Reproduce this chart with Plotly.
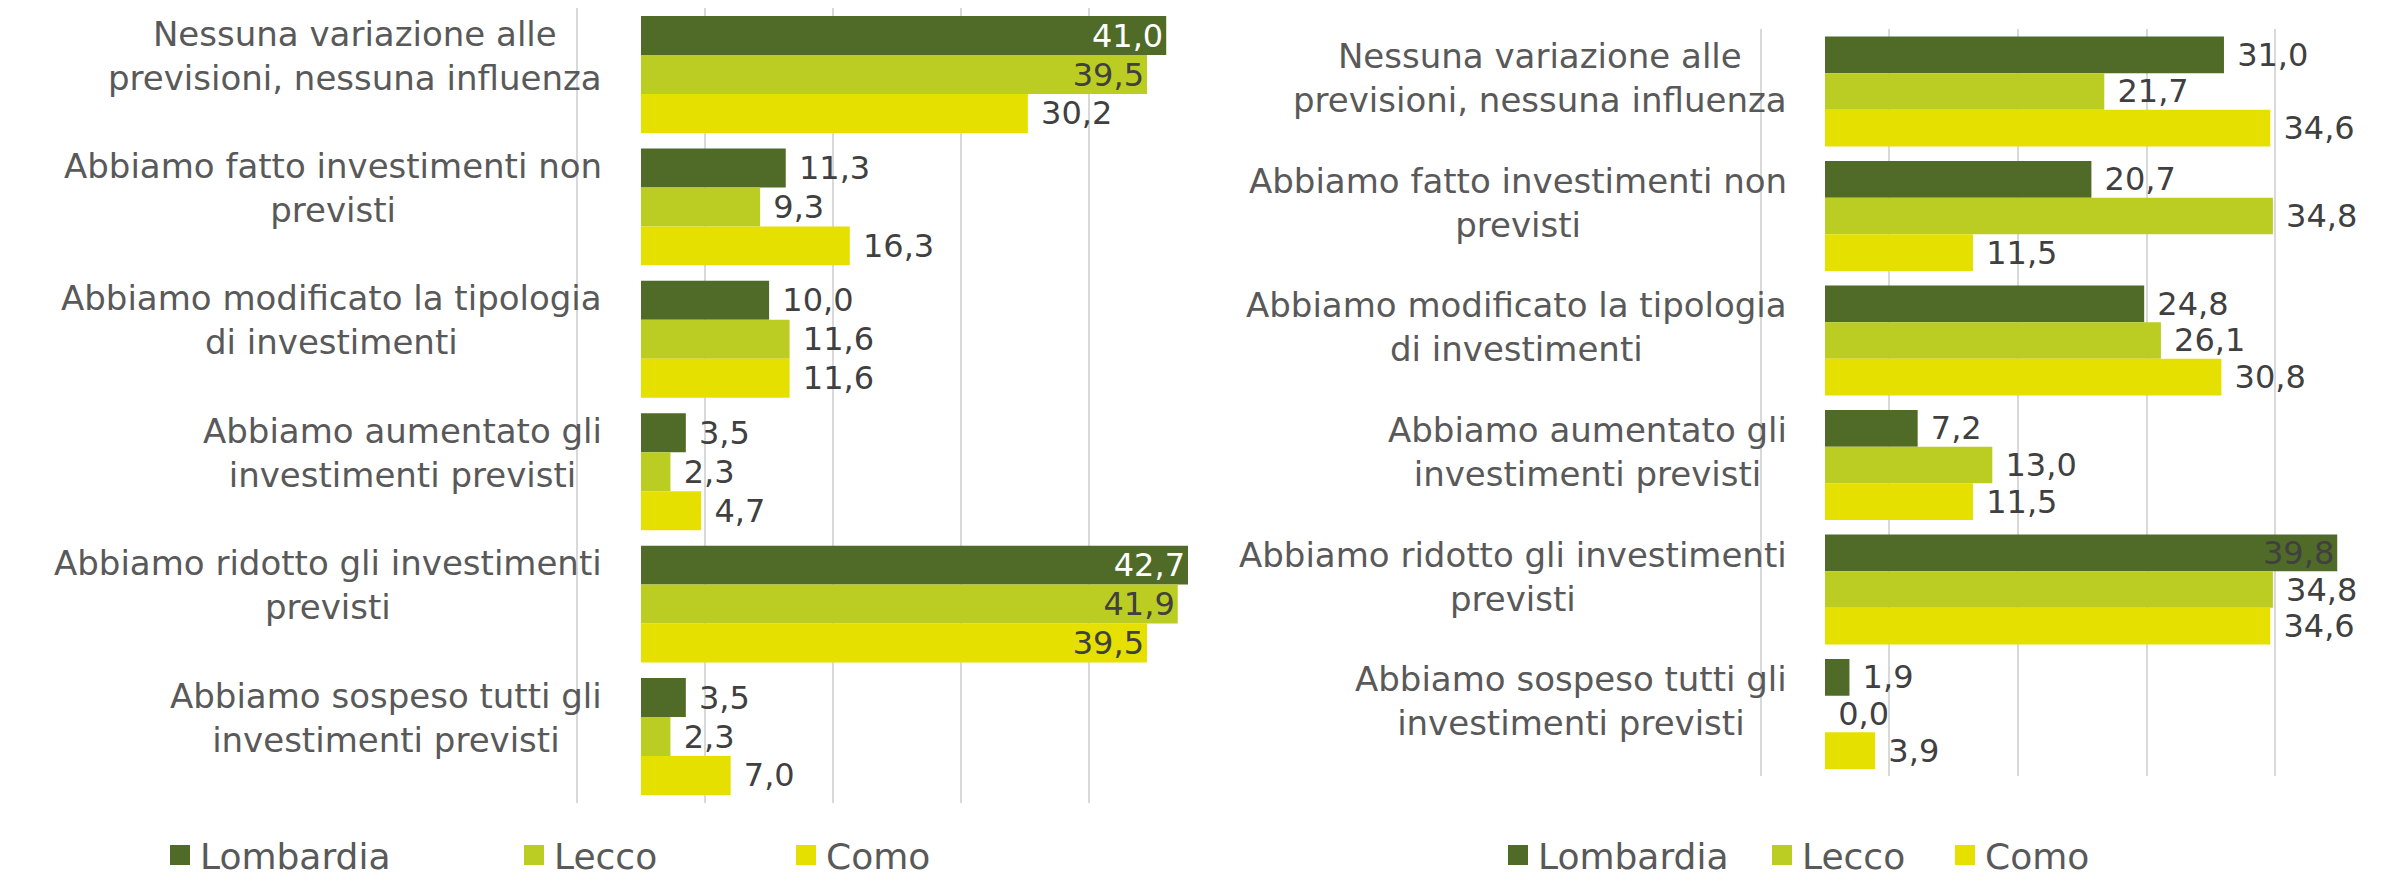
import plotly.graph_objects as go

# ---------------- data ----------------
categories = [
    "Nessuna variazione alle<br>previsioni, nessuna influenza",
    "Abbiamo fatto investimenti non<br>previsti",
    "Abbiamo modificato la tipologia<br>di investimenti",
    "Abbiamo aumentato gli<br>investimenti previsti",
    "Abbiamo ridotto gli investimenti<br>previsti",
    "Abbiamo sospeso tutti gli<br>investimenti previsti",
]
series_names = ["Lombardia", "Lecco", "Como"]

left_lombardia = [41.0, 11.3, 10.0, 3.5, 42.7, 3.5]
left_lecco = [39.5, 9.3, 11.6, 2.3, 41.9, 2.3]
left_como = [30.2, 16.3, 11.6, 4.7, 39.5, 7.0]

right_lombardia = [31.0, 20.7, 24.8, 7.2, 39.8, 1.9]
right_lecco = [21.7, 34.8, 26.1, 13.0, 34.8, 0.0]
right_como = [34.6, 11.5, 30.8, 11.5, 34.6, 3.9]

# ---------------- style ----------------
W = 2394
H = 900          # figure slightly taller than the 877px window; the extra strip is hidden
colors = ["#506A28", "#BBCC22", "#E6E000"]
FONT = "DejaVu Sans"
LABEL_GREY = "#595959"
VALUE_GREY = "#404040"

def py(px_from_top):
    return 1 - px_from_top / H

O, I = "outside", "inside"
left_pos = [
    [I, O, O, O, I, O],
    [I, O, O, O, I, O],
    [O, O, O, O, I, O],
]
left_inside_color = ["white", VALUE_GREY, VALUE_GREY]
right_pos = [
    [O, O, O, O, I, O],
    [O, O, O, O, O, O],
    [O, O, O, O, O, O],
]
right_inside_color = [VALUE_GREY, VALUE_GREY, VALUE_GREY]

fig = go.Figure()

def add_panel(values_list, positions, inside_colors, xa, ya):
    for k, (name, vals) in enumerate(zip(series_names, values_list)):
        fig.add_trace(go.Bar(
            y=categories, x=vals, orientation="h", name=name,
            marker=dict(color=colors[k], line=dict(width=0)),
            texttemplate="\u00a0%{x:.1f}",
            textposition=positions[k],
            insidetextanchor="end",
            insidetextfont=dict(family=FONT, size=32, color=inside_colors[k]),
            outsidetextfont=dict(family=FONT, size=32, color=VALUE_GREY),
            constraintext="none",
            cliponaxis=True,
            showlegend=False, hoverinfo="skip",
            xaxis=xa, yaxis=ya,
        ))

add_panel([left_lombardia, left_lecco, left_como], left_pos, left_inside_color, "x", "y")
add_panel([right_lombardia, right_lecco, right_como], right_pos, right_inside_color, "x2", "y2")

# legend-only entries (one legend per entry, so each can be placed like the original)
legend_ids = ["legend", "legend2", "legend3", "legend4", "legend5", "legend6"]
legend_centers = [180, 534, 806, 1518, 1782, 1965]
for j in range(6):
    k = j % 3
    fig.add_trace(go.Scatter(
        x=[None], y=[None], mode="markers", name=series_names[k],
        marker=dict(symbol="square", size=16, color=colors[k],
                    line=dict(color=colors[k], width=4)),
        legend=legend_ids[j], showlegend=True, hoverinfo="skip",
        xaxis="x" if j < 3 else "x2", yaxis="y" if j < 3 else "y2",
    ))

legend_layout = {}
for j, lid in enumerate(legend_ids):
    legend_layout[lid] = dict(
        x=(legend_centers[j] - 20) / W, y=py(855),
        xanchor="left", yanchor="middle", orientation="h",
        bgcolor="rgba(0,0,0,0)", borderwidth=0,
        font=dict(family=FONT, size=36, color=LABEL_GREY),
    )

grid = dict(showgrid=True, gridcolor="#D9D9D9", gridwidth=2, tick0=5, dtick=10,
            zeroline=False, showticklabels=False, showline=False, ticks="")
yax = dict(showticklabels=False, showgrid=False, zeroline=False, showline=False,
           ticks="", range=[5.5, -0.5], type="category")

# left panel: value 0 at x=641px, 12.81 px per unit; right panel: 0 at 1825px, 12.87 px per unit
fig.update_layout(
    width=W, height=H, margin=dict(l=0, r=0, t=0, b=0),
    paper_bgcolor="white", plot_bgcolor="white",
    barmode="group", bargap=0.117, bargroupgap=0,
    separators=",.",
    xaxis=dict(domain=[560 / W, 1189 / W], range=[(560 - 641) / 12.81, (1189 - 641) / 12.81],
               anchor="y", **grid),
    yaxis=dict(domain=[py(802.7), py(8.3)], anchor="x", **yax),
    xaxis2=dict(domain=[1745 / W, 1.0], range=[(1745 - 1825) / 12.87, (2394 - 1825) / 12.87],
                anchor="y2", **grid),
    yaxis2=dict(domain=[py(776.3), py(29.2)], anchor="x2", **yax),
    **legend_layout,
)

annotations = []
for cat in categories:
    for xr, yr, ys in ((604 / W, "y", 19), (1789 / W, "y2", 13)):
        annotations.append(dict(
            x=xr, xref="paper", y=cat, yref=yr, text=cat,
            xanchor="right", yanchor="middle", align="center",
            showarrow=False, yshift=ys,
            font=dict(family=FONT, size=34, color=LABEL_GREY),
        ))
fig.update_layout(annotations=annotations)

fig.write_html("out.html", config={"displayModeBar": False},
               post_script="document.body.style.margin='0px';"
                           "document.body.style.overflow='hidden';")
